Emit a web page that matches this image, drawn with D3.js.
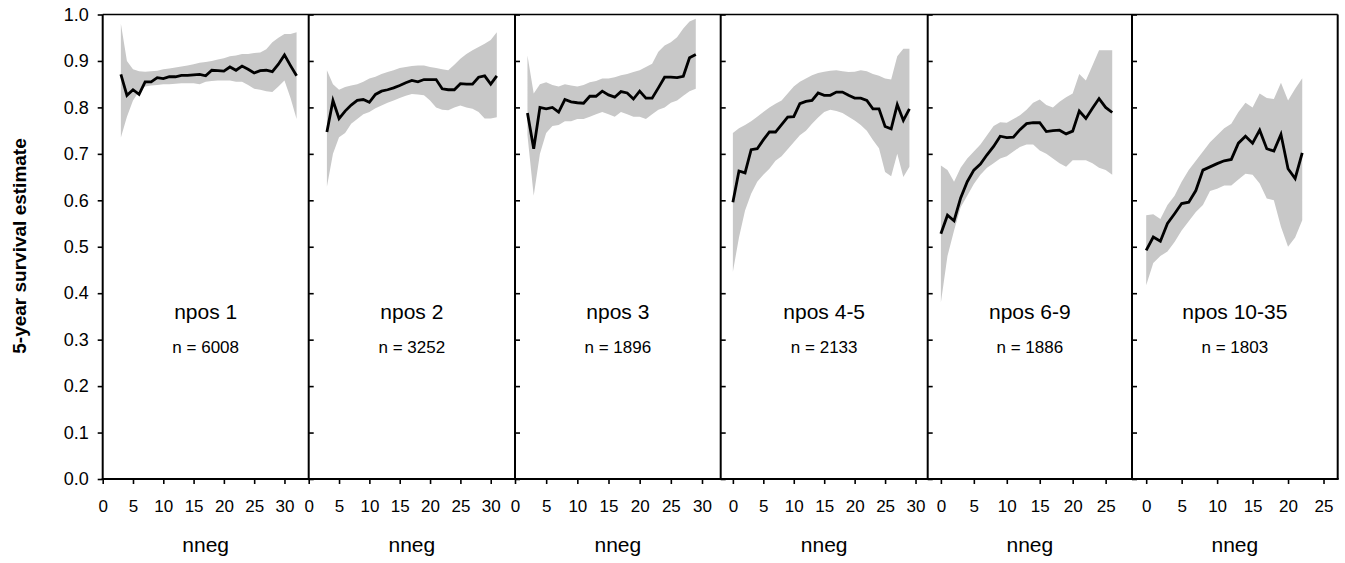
<!DOCTYPE html>
<html>
<head>
<meta charset="utf-8">
<script src="https://cdn.jsdelivr.net/npm/d3@7"></script>
<style>
  body { margin: 0; background: #fff; }
  svg { font-family: "Liberation Sans", Arial, sans-serif; }
</style>
</head>
<body>
<svg width="1345" height="563"></svg>
<script>
// panel titles and sizes
const panelLabels = ["npos 1", "npos 2", "npos 3", "npos 4-5", "npos 6-9", "npos 10-35"];
const panelCounts = ["n = 6008", "n = 3252", "n = 1896", "n = 2133", "n = 1886", "n = 1803"];
const nnegStart = [3, 3, 2, 0, 0, 0];

// 5-year survival estimate (line) and band lower / upper, one value per nneg
const est1 = [0.871,0.826,0.838,0.828,0.855,0.855,0.864,0.862,0.866,0.866,0.869,0.869,0.870,0.871,0.868,0.880,0.879,0.878,0.887,0.880,0.889,0.882,0.874,0.879,0.880,0.877,0.893,0.913,0.890,0.868];
const hi1 = [0.98,0.90,0.882,0.878,0.877,0.878,0.879,0.882,0.884,0.886,0.888,0.89,0.893,0.896,0.898,0.90,0.903,0.906,0.91,0.912,0.915,0.915,0.917,0.918,0.925,0.94,0.95,0.958,0.958,0.962];
const lo1 = [0.735,0.78,0.815,0.835,0.845,0.847,0.848,0.85,0.85,0.851,0.852,0.852,0.852,0.85,0.855,0.857,0.858,0.858,0.858,0.855,0.855,0.848,0.84,0.838,0.835,0.833,0.845,0.858,0.82,0.775];

const est2 = [0.747,0.815,0.776,0.792,0.805,0.815,0.817,0.811,0.828,0.835,0.838,0.842,0.847,0.853,0.858,0.855,0.86,0.86,0.86,0.84,0.838,0.838,0.851,0.85,0.85,0.865,0.868,0.85,0.868];
const hi2 = [0.88,0.85,0.838,0.844,0.847,0.85,0.855,0.862,0.866,0.872,0.876,0.88,0.885,0.887,0.889,0.89,0.89,0.887,0.885,0.882,0.88,0.892,0.905,0.915,0.923,0.93,0.937,0.945,0.962];
const lo2 = [0.629,0.70,0.736,0.745,0.765,0.775,0.785,0.79,0.798,0.804,0.81,0.815,0.82,0.825,0.829,0.828,0.826,0.815,0.80,0.795,0.794,0.80,0.804,0.80,0.797,0.79,0.776,0.776,0.779];

const est3 = [0.788,0.711,0.80,0.797,0.80,0.79,0.817,0.812,0.81,0.809,0.824,0.824,0.835,0.827,0.822,0.834,0.831,0.818,0.835,0.82,0.82,0.842,0.865,0.865,0.864,0.867,0.907,0.914];
const hi3 = [0.912,0.83,0.85,0.854,0.848,0.845,0.85,0.847,0.845,0.848,0.854,0.857,0.862,0.862,0.865,0.869,0.872,0.876,0.88,0.887,0.894,0.92,0.933,0.94,0.951,0.97,0.985,0.991];
const lo3 = [0.74,0.61,0.70,0.745,0.76,0.762,0.77,0.77,0.775,0.775,0.78,0.785,0.79,0.785,0.78,0.79,0.785,0.78,0.78,0.775,0.785,0.795,0.80,0.81,0.815,0.825,0.835,0.84];

const est4 = [0.596,0.663,0.659,0.709,0.711,0.73,0.747,0.747,0.763,0.779,0.78,0.808,0.813,0.815,0.831,0.826,0.826,0.833,0.833,0.826,0.82,0.82,0.815,0.797,0.797,0.759,0.754,0.806,0.772,0.797];
const hi4 = [0.745,0.755,0.762,0.77,0.78,0.79,0.80,0.808,0.815,0.83,0.845,0.855,0.862,0.869,0.874,0.877,0.879,0.88,0.878,0.876,0.877,0.88,0.878,0.872,0.868,0.862,0.86,0.91,0.926,0.926];
const lo4 = [0.446,0.52,0.578,0.614,0.64,0.655,0.668,0.685,0.695,0.71,0.725,0.74,0.75,0.765,0.778,0.79,0.795,0.792,0.788,0.78,0.772,0.762,0.75,0.73,0.712,0.661,0.652,0.70,0.65,0.672];

const est5 = [0.528,0.568,0.556,0.605,0.64,0.665,0.678,0.698,0.716,0.738,0.735,0.736,0.752,0.765,0.767,0.767,0.748,0.75,0.751,0.743,0.749,0.792,0.776,0.798,0.819,0.80,0.789];
const hi5 = [0.675,0.665,0.64,0.67,0.69,0.705,0.72,0.74,0.76,0.768,0.767,0.775,0.783,0.795,0.81,0.817,0.805,0.80,0.812,0.822,0.83,0.872,0.858,0.89,0.923,0.923,0.923];
const lo5 = [0.38,0.48,0.535,0.585,0.61,0.635,0.655,0.67,0.68,0.69,0.695,0.705,0.715,0.72,0.72,0.707,0.70,0.69,0.68,0.672,0.686,0.686,0.686,0.68,0.67,0.665,0.655];

const est6 = [0.492,0.521,0.512,0.55,0.571,0.593,0.596,0.621,0.665,0.672,0.679,0.685,0.688,0.723,0.738,0.723,0.751,0.711,0.706,0.742,0.668,0.647,0.702];
const hi6 = [0.568,0.57,0.56,0.59,0.61,0.64,0.665,0.685,0.705,0.725,0.74,0.755,0.765,0.79,0.81,0.80,0.83,0.82,0.818,0.853,0.815,0.84,0.863];
const lo6 = [0.417,0.465,0.48,0.49,0.51,0.535,0.555,0.575,0.59,0.62,0.625,0.632,0.632,0.645,0.657,0.655,0.636,0.604,0.60,0.543,0.50,0.52,0.557];

const yTicks = [0, 0.1, 0.2, 0.3, 0.4, 0.5, 0.6, 0.7, 0.8, 0.9, 1.0];
const xTicksLong = [0, 5, 10, 15, 20, 25, 30];
const xTicksShort = [0, 5, 10, 15, 20, 25];

const ests = [est1, est2, est3, est4, est5, est6];
const his = [hi1, hi2, hi3, hi4, hi5, hi6];
const los = [lo1, lo2, lo3, lo4, lo5, lo6];

// layout
const edges = [102.7, 308.7, 515, 720.7, 927.7, 1132, 1337.7];
const xDomains = [[0, 34], [0, 34], [0, 33], [-2, 32], [-2, 29], [-2, 27]];
const plotTop = 14.5, plotBottom = 479;

const svg = d3.select("svg");

const y = d3.scaleLinear().domain([0, 1]).range([plotBottom, plotTop]);

const panels = panelLabels.map((label, i) => ({
  label: label,
  count: panelCounts[i],
  points: ests[i].map((v, j) => ({ nneg: nnegStart[i] + j, est: v, lo: los[i][j], hi: his[i][j] })),
  ticks: i < 4 ? xTicksLong : xTicksShort
}));

panels.forEach((p, i) => {
  const x = d3.scaleLinear().domain(xDomains[i]).range([edges[i], edges[i + 1]]);
  const g = svg.append("g");

  const area = d3.area()
    .x((d) => x(d.nneg))
    .y0((d) => y(d.lo))
    .y1((d) => y(d.hi));
  g.append("path")
    .datum(p.points)
    .attr("d", area)
    .attr("fill", "#c8c8c8");

  const line = d3.line()
    .x((d) => x(d.nneg))
    .y((d) => y(d.est));
  g.append("path")
    .datum(p.points)
    .attr("d", line)
    .attr("fill", "none")
    .attr("stroke", "#000")
    .attr("stroke-width", 2.8)
    .attr("stroke-linejoin", "miter");

  // x axis
  const xAxis = g.append("g")
    .attr("transform", `translate(0,${plotBottom})`)
    .call(d3.axisBottom(x).tickValues(p.ticks).tickSize(5).tickPadding(16));
  xAxis.select(".domain").remove();
  xAxis.selectAll("line").attr("stroke-width", 1.6);
  xAxis.selectAll("text").attr("font-size", 17).attr("fill", "#000").attr("font-family", null);

  // y ticks
  if (i === 0) {
    const yAxis = g.append("g")
      .attr("transform", `translate(${edges[0]},0)`)
      .call(d3.axisLeft(y).tickValues(yTicks).tickSize(5).tickPadding(9).tickFormat(d3.format(".1f")));
    yAxis.select(".domain").remove();
    yAxis.selectAll("line").attr("stroke-width", 1.6);
    yAxis.selectAll("text").attr("font-size", 18).attr("fill", "#000").attr("font-family", null);
  } else {
    const yAxis = g.append("g")
      .attr("transform", `translate(${edges[i]},0)`)
      .call(d3.axisRight(y).tickValues(yTicks).tickSize(5).tickFormat(""));
    yAxis.select(".domain").remove();
    yAxis.selectAll("line").attr("stroke-width", 1.6);
  }

  // panel text
  const cx = (edges[i] + edges[i + 1]) / 2;
  g.append("text")
    .attr("x", cx)
    .attr("y", 319)
    .attr("text-anchor", "middle")
    .attr("font-size", 21)
    .text(p.label);
  g.append("text")
    .attr("x", cx)
    .attr("y", 353)
    .attr("text-anchor", "middle")
    .attr("font-size", 17)
    .text(p.count);

  g.append("text")
    .attr("x", cx)
    .attr("y", 552)
    .attr("text-anchor", "middle")
    .attr("font-size", 21)
    .text("nneg");
});

// frame
const frame = svg.append("g").attr("stroke", "#000").attr("fill", "none");
frame.append("line")
  .attr("x1", edges[0]).attr("x2", edges[6])
  .attr("y1", plotTop).attr("y2", plotTop)
  .attr("stroke-width", 1.5);
frame.append("line")
  .attr("x1", edges[0] - 1).attr("x2", edges[6] + 1)
  .attr("y1", plotBottom).attr("y2", plotBottom)
  .attr("stroke-width", 2);
edges.forEach((ex) => {
  frame.append("line")
    .attr("x1", ex).attr("x2", ex)
    .attr("y1", plotTop).attr("y2", plotBottom)
    .attr("stroke-width", 2);
});

// y title
svg.append("text")
  .attr("transform", "translate(26,246) rotate(-90)")
  .attr("text-anchor", "middle")
  .attr("font-size", 19)
  .attr("font-weight", "bold")
  .text("5-year survival estimate");
</script>
</body>
</html>
